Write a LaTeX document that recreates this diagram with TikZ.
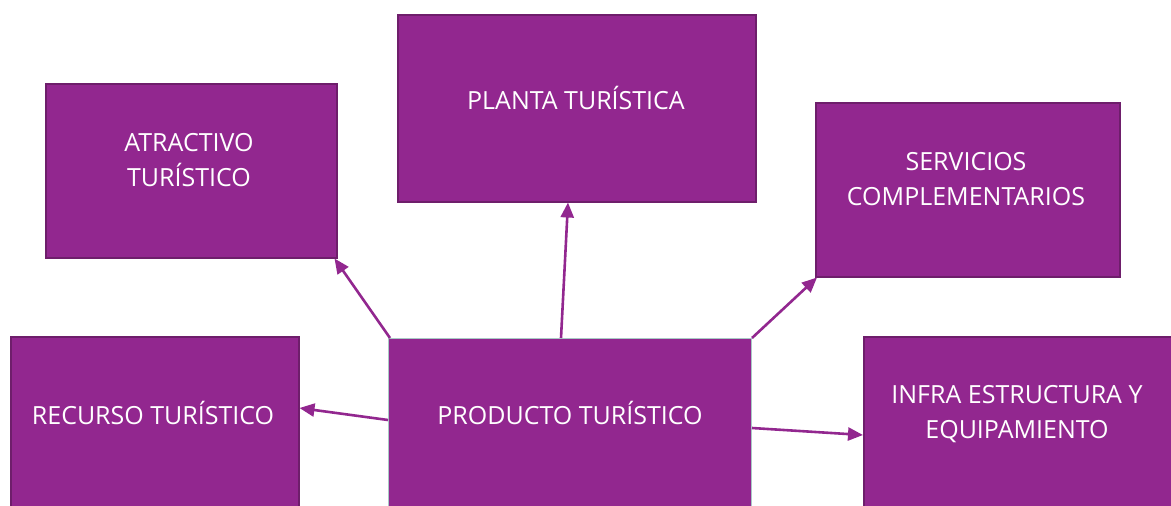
\documentclass[tikz,border=0pt]{standalone}
\usepackage{fontspec}
\setmainfont{Open Sans}
\usetikzlibrary{arrows.meta,calc}
\definecolor{boxfill}{HTML}{92278F}
\definecolor{boxedge}{HTML}{6E1E6B}
\definecolor{prodedge}{HTML}{A9C9C6}
\tikzset{
  box/.style={rectangle, fill=boxfill, draw=boxedge, line width=1.5pt, anchor=north west, inner sep=0pt},
  prodbox/.style={box, draw=prodedge, line width=1pt},
  lbl/.style={text=white, font=\fontsize{25}{35}\selectfont, align=center, inner sep=0pt},
  conn/.style={draw=boxfill, line width=2.6pt, -{Triangle[length=15pt,width=13pt]}},
}
\begin{document}
\begin{tikzpicture}[x=1pt,y=-1pt]
\useasboundingbox (0,0) rectangle (1171,506);
\node[box, minimum width=291pt, minimum height=174pt] (atr) at (45,83) {};
\node[box, minimum width=358pt, minimum height=187pt] (pla) at (397,14) {};
\node[box, minimum width=304pt, minimum height=174pt] (ser) at (815,102) {};
\node[box, minimum width=288pt, minimum height=200pt] (rec) at (10,336) {};
\node[prodbox, minimum width=363pt, minimum height=200pt] (pro) at (388,338) {};
\node[box, minimum width=320pt, minimum height=200pt] (inf) at (863,336) {};

\node[lbl] (tatr) at (189,160) {ATRACTIVO\\TURÍSTICO};
\node[lbl] (tpla) at (576,98) {PLANTA TURÍSTICA};
\node[lbl] (tser) at (966,179) {SERVICIOS\\COMPLEMENTARIOS};
\node[lbl] (trec) at (153,413) {RECURSO TURÍSTICO};
\node[lbl] (tpro) at (570,413) {PRODUCTO TURÍSTICO};
\node[lbl] (tinf) at (1017,414) {INFRA ESTRUCTURA Y\\EQUIPAMIENTO};

\draw[conn] ($(pro.north west)+(2,0)$) -- ($(atr.south east)+(-3,0)$);
\draw[conn] ($(pro.north west)+(173,0)$) -- ($(pla.south west)+(171,0)$);
\draw[conn] (pro.north east) -- ($(ser.south west)+(2,0)$);
\draw[conn] ($(pro.north west)+(0,82)$) -- ($(rec.north east)+(0,72)$);
\draw[conn] ($(pro.north east)+(0,90)$) -- ($(inf.north west)+(0,99)$);
\end{tikzpicture}
\end{document}
